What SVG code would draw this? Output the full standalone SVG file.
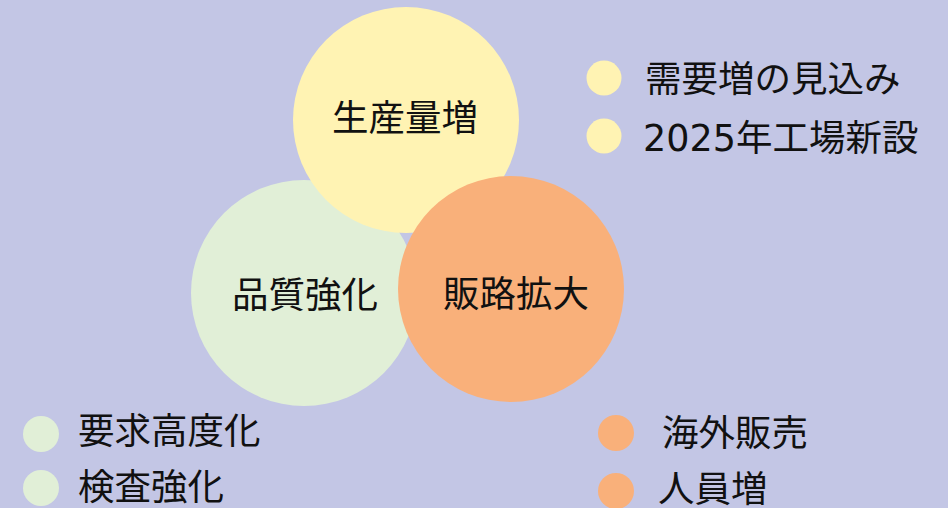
<svg xmlns="http://www.w3.org/2000/svg" width="948" height="508" viewBox="0 0 948 508">
<style>
text{font-family:"DejaVu Sans","Noto Sans CJK JP",sans-serif;fill:#111;}
.c{font-size:36.5px;text-anchor:middle;dominant-baseline:central;}
.l{font-size:36.5px;dominant-baseline:central;}
.y{fill:#fff3b3;}
.g{fill:#e1efd7;}
.o{fill:#f9b07a;}
</style>
<rect width="948" height="508" fill="#c3c6e5"/>
<g id="node-quality"><circle class="g" cx="304" cy="293" r="113"/><text class="c" x="305" y="295">品質強化</text></g>
<g id="node-production"><circle class="y" cx="406" cy="120" r="113"/><text class="c" x="405" y="118">生産量増</text></g>
<g id="node-sales"><circle class="o" cx="511" cy="289" r="113"/><text class="c" x="516" y="294">販路拡大</text></g>
<g id="legend-production">
<circle class="y" cx="604" cy="78" r="17.5"/><text class="l" x="645" y="79">需要増の見込み</text>
<circle class="y" cx="604" cy="136" r="17.5"/><text class="l" x="643" y="138">2025年工場新設</text>
</g>
<g id="legend-quality">
<circle class="g" cx="41" cy="434" r="18"/><text class="l" x="78" y="431">要求高度化</text>
<circle class="g" cx="41" cy="488" r="18"/><text class="l" x="78" y="487">検査強化</text>
</g>
<g id="legend-sales">
<circle class="o" cx="616" cy="433" r="18"/><text class="l" x="662" y="433">海外販売</text>
<circle class="o" cx="616" cy="491" r="18"/><text class="l" x="658" y="489">人員増</text>
</g>
<g id="connectors"/>
</svg>
